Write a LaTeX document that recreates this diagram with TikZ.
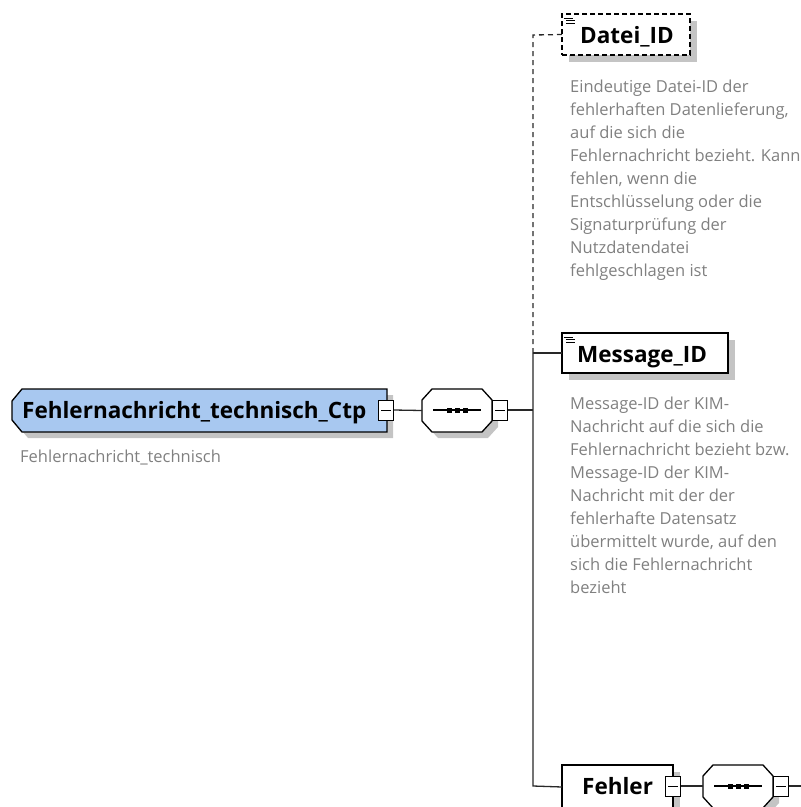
\documentclass[tikz,border=0pt]{standalone}
\usepackage{fontspec}
\setmainfont{Open Sans}
\definecolor{mainfill}{RGB}{168,200,240}
\definecolor{shadowgray}{RGB}{196,196,196}
\definecolor{descgray}{RGB}{128,128,128}
\definecolor{linegray}{RGB}{40,40,40}
% octagon outline: x1 y1 x2 y2 cx cy
\newcommand{\octP}[6]{(#1+#5,#2) -- (#3-#5,#2) -- (#3,#2+#6) -- (#3,#4-#6) -- (#3-#5,#4) -- (#1+#5,#4) -- (#1,#4-#6) -- (#1,#2+#6) -- cycle}
% left-chamfered outline
\newcommand{\lchP}[6]{(#1+#5,#2) -- (#3,#2) -- (#3,#4) -- (#1+#5,#4) -- (#1,#4-#6) -- (#1,#2+#6) -- cycle}
\begin{document}
\begin{tikzpicture}[x=1pt,y=-1pt,
  anchorbox/.style={draw=none, inner sep=0pt, outer sep=0pt, anchor=north west},
  outline/.style={draw=black, line width=1.3pt},
  elbox/.style={draw=black, line width=1.3pt, fill=white, inner sep=0pt, outer sep=0pt, anchor=north west},
  minusbox/.style={draw=black, line width=1pt, fill=white, minimum width=15pt, minimum height=20pt, inner sep=0pt},
  minusbar/.style={line width=1pt},
  conn/.style={draw=linegray, line width=1.3pt},
  optconn/.style={conn, dash pattern=on 5pt off 4pt},
  seqline/.style={line width=1.2pt},
  dot/.style={fill=black},
  lbl/.style={font=\fontsize{22.5}{26}\selectfont\bfseries, inner sep=0pt, anchor=base west},
  desc/.style={text=descgray, font=\fontsize{16.5}{23}\selectfont, inner sep=0pt, align=left, anchor=base west},
  icon/.style={draw=black, line width=0.8pt}]
\useasboundingbox (0,0) rectangle (801,807);
\clip (0,0) rectangle (801,807);

% ---- main complex type
\fill[shadowgray] \lchP{18}{395}{393}{438}{10}{12};
\node[anchorbox, minimum width=375pt, minimum height=43pt] (main) at (12,389) {};
\filldraw[outline, fill=mainfill] \lchP{12}{389}{387}{432}{10}{12};
\node[lbl] (mainlbl) at (22,418) {Fehlernachricht\_technisch\_Ctp};
\node[minusbox] (m1) at (386,410) {};
\draw[minusbar] ([xshift=3pt]m1.west) -- ([xshift=-3pt]m1.east);
\node[desc] (maindesc) at (20,462) {Fehlernachricht\_technisch};

% ---- sequence
\fill[shadowgray] \octP{428}{395}{498}{438}{10}{11};
\node[anchorbox, minimum width=70pt, minimum height=43pt] (seq) at (422,389) {};
\filldraw[outline, fill=white] \octP{422}{389}{492}{432}{10}{11};
\node[minusbox, anchor=west] (m2) at (492,410) {};
\draw[minusbar] ([xshift=3pt]m2.west) -- ([xshift=-3pt]m2.east);
\draw[seqline] (433,410) -- (481,410);
\fill[dot] (449,410) +(-2.5,-2.5) rectangle +(2.5,2.5);
\fill[dot] (457,410) +(-2.5,-2.5) rectangle +(2.5,2.5);
\fill[dot] (465,410) +(-2.5,-2.5) rectangle +(2.5,2.5);
\draw[conn] (m1.east) -- (seq.west);

% ---- trunk
\coordinate (tTop) at (533,35);
\coordinate (tMsg) at (533,353);
\coordinate (tSeq) at (533,410);
\coordinate (tFeh) at (533,786);
\draw[conn] (m2.east) -- (tSeq);

% ---- Datei_ID (optional)
\fill[shadowgray] (569,21) rectangle (697,62);
\node[elbox, dash pattern=on 5pt off 3pt, minimum width=128pt, minimum height=41pt] (datei) at (562,14) {};
\node[lbl] (dateilbl) at (580,43) {Datei\_ID};
\draw[icon] (564,18) -- (573,18) (566,20.8) -- (575,20.8) (566,23.6) -- (575,23.6);
\draw[optconn] (tMsg) -- (tTop) -- (datei.west);
\node[desc] (dateidesc) at (570,276) {Eindeutige Datei-ID der\\fehlerhaften Datenlieferung,\\auf die sich die\\Fehlernachricht bezieht. Kann\\fehlen, wenn die\\Entschlüsselung oder die\\Signaturprüfung der\\Nutzdatendatei\\fehlgeschlagen ist};

% ---- Message_ID
\fill[shadowgray] (569,340) rectangle (735,380);
\node[elbox, minimum width=166pt, minimum height=40pt] (msg) at (562,333) {};
\node[lbl] (msglbl) at (577,362) {Message\_ID};
\draw[icon] (564,337) -- (573,337) (566,339.8) -- (575,339.8) (566,342.6) -- (575,342.6);
\draw[conn] (tMsg) -- (msg.west);
\node[desc] (msgdesc) at (570,593) {Message-ID der KIM-\\Nachricht auf die sich die\\Fehlernachricht bezieht bzw.\\Message-ID der KIM-\\Nachricht mit der der\\fehlerhafte Datensatz\\übermittelt wurde, auf den\\sich die Fehlernachricht\\bezieht};

% ---- Fehler
\fill[shadowgray] (569,772) rectangle (680,820);
\node[elbox, minimum width=111pt, minimum height=44pt] (feh) at (562,765) {};
\node[lbl] (fehlbl) at (582,794) {Fehler};
\node[minusbox] (m3) at (673,786) {};
\draw[minusbar] ([xshift=3pt]m3.west) -- ([xshift=-3pt]m3.east);
\draw[conn] (tMsg) -- (tFeh) -- (feh.west);

\fill[shadowgray] \octP{709}{771}{779}{814}{10}{11};
\node[anchorbox, minimum width=70pt, minimum height=43pt] (seq2) at (703,765) {};
\filldraw[outline, fill=white] \octP{703}{765}{773}{808}{10}{11};
\node[minusbox, anchor=west] (m4) at (773,786) {};
\draw[minusbar] ([xshift=3pt]m4.west) -- ([xshift=-3pt]m4.east);
\draw[seqline] (714,786) -- (762,786);
\fill[dot] (730,786) +(-2.5,-2.5) rectangle +(2.5,2.5);
\fill[dot] (738,786) +(-2.5,-2.5) rectangle +(2.5,2.5);
\fill[dot] (746,786) +(-2.5,-2.5) rectangle +(2.5,2.5);
\draw[conn] (m3.east) -- (seq2.west |- m3.east);
\coordinate (outR) at (805,786);
\draw[conn] (m4.east) -- (outR);
\end{tikzpicture}
\end{document}
